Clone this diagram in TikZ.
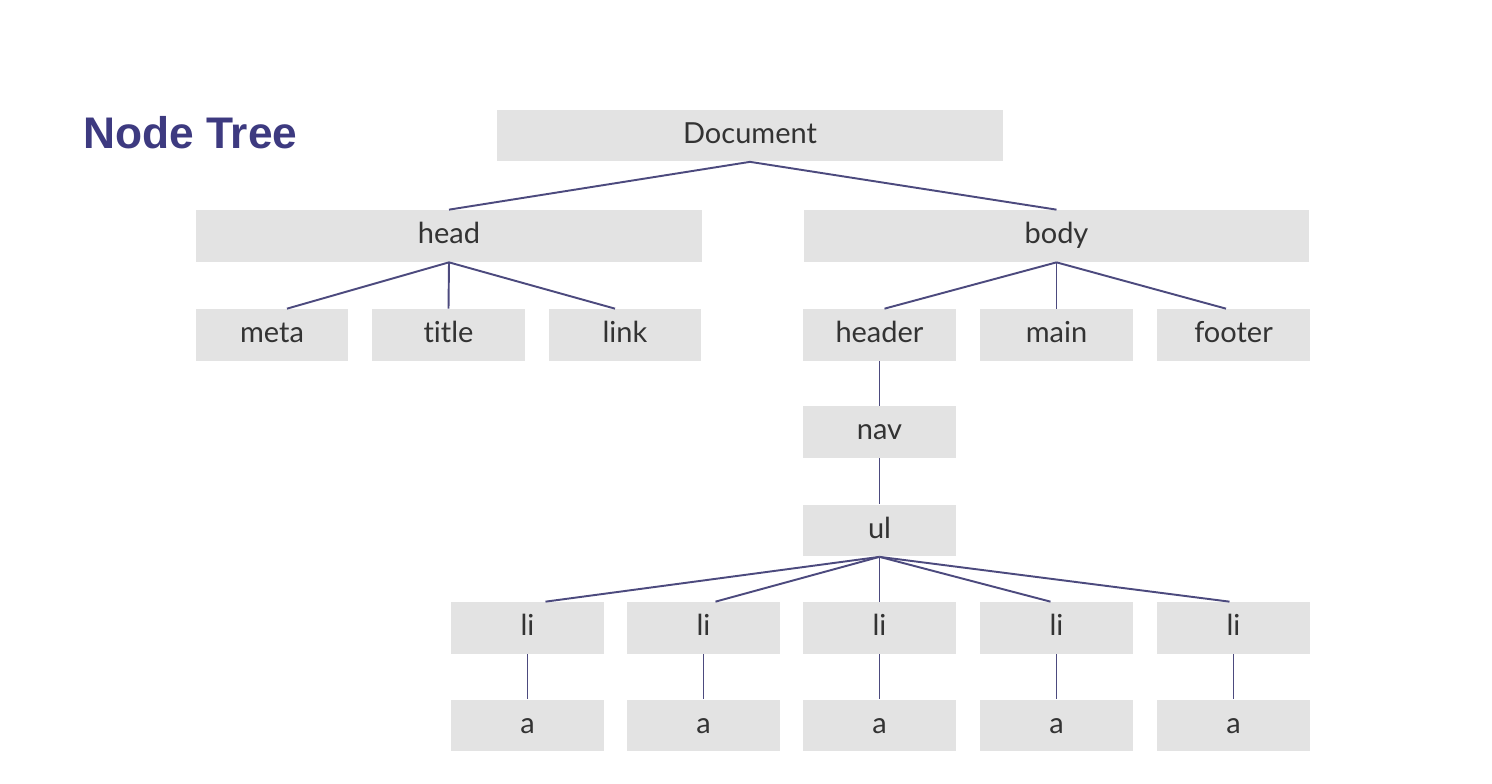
\documentclass[tikz,border=0pt]{standalone}
\usepackage{fontspec}
\setmainfont{Lato}[Ligatures=CommonOff]
\newfontfamily\titlefont{Liberation Sans}
\definecolor{boxgray}{HTML}{E3E3E3}
\definecolor{edgeblue}{HTML}{4C4A7E}
\definecolor{titleblue}{HTML}{3D3A80}
\definecolor{txtgray}{HTML}{333333}
\tikzset{
  box/.style={fill=boxgray, inner sep=0pt, minimum width=3.06cm, minimum height=1.04cm, text height=9pt, text depth=0pt, text=txtgray, font=\fontsize{16.5}{18}\selectfont},
  widebox/.style={box, minimum width=10.12cm},
  edge/.style={draw=edgeblue, line width=1.1pt}
}
\begin{document}
\begin{tikzpicture}[x=0.02cm, y=-0.02cm]
		\useasboundingbox (0,0) rectangle (1492,784);
		\node[anchor=base west, inner sep=0pt, text=titleblue, font=\titlefont\bfseries\fontsize{25.2}{28}\selectfont] (title) at (83,149){Node Tree};
		\node[widebox] (doc) at (750,135.5){Document};
		\node[widebox] (head) at (449,236){head};
		\node[widebox] (body) at (1056.5,236){body};
		\node[box] (meta) at (272,335){meta};
		\node[box] (ttl) at (448.5,335){title};
		\node[box] (link) at (625,335){link};
		\node[box] (header) at (879.5,335){header};
		\node[box] (main) at (1056.5,335){main};
		\node[box] (footer) at (1233.5,335){footer};
		\node[box] (nav) at (879.5,432){nav};
		\node[box] (ul) at (879.5,530.5){ul};
		\foreach \i/\x in {1/527.5, 2/703.5, 3/879.5, 4/1056.5, 5/1233.5}{
			\node[box] (li\i) at (\x,628){li};
			\node[box] (a\i) at (\x,725.5){a};
			\draw[edge] (li\i) -- (a\i);
		}
		\draw[edge] (doc.south) -- (head.north);
		\draw[edge] (doc.south) -- (body.north);
		\draw[edge] (head.south) -- ([xshift=0.3cm]meta.north);
		\draw[edge] (head.south) -- (ttl.north);
		\draw[edge] (head.south) -- ([xshift=-0.2cm]link.north);
		\draw[edge] (body.south) -- ([xshift=0.1cm]header.north);
		\draw[edge] (body.south) -- (main.north);
		\draw[edge] (body.south) -- ([xshift=-0.15cm]footer.north);
		\draw[edge] (header) -- (nav);
		\draw[edge] (nav) -- (ul);
		\draw[edge] (ul.south) -- ([xshift=0.36cm]li1.north);
		\draw[edge] (ul.south) -- ([xshift=0.24cm]li2.north);
		\draw[edge] (ul.south) -- (li3.north);
		\draw[edge] (ul.south) -- ([xshift=-0.12cm]li4.north);
		\draw[edge] (ul.south) -- ([xshift=-0.08cm]li5.north);
\end{tikzpicture}
\end{document}
